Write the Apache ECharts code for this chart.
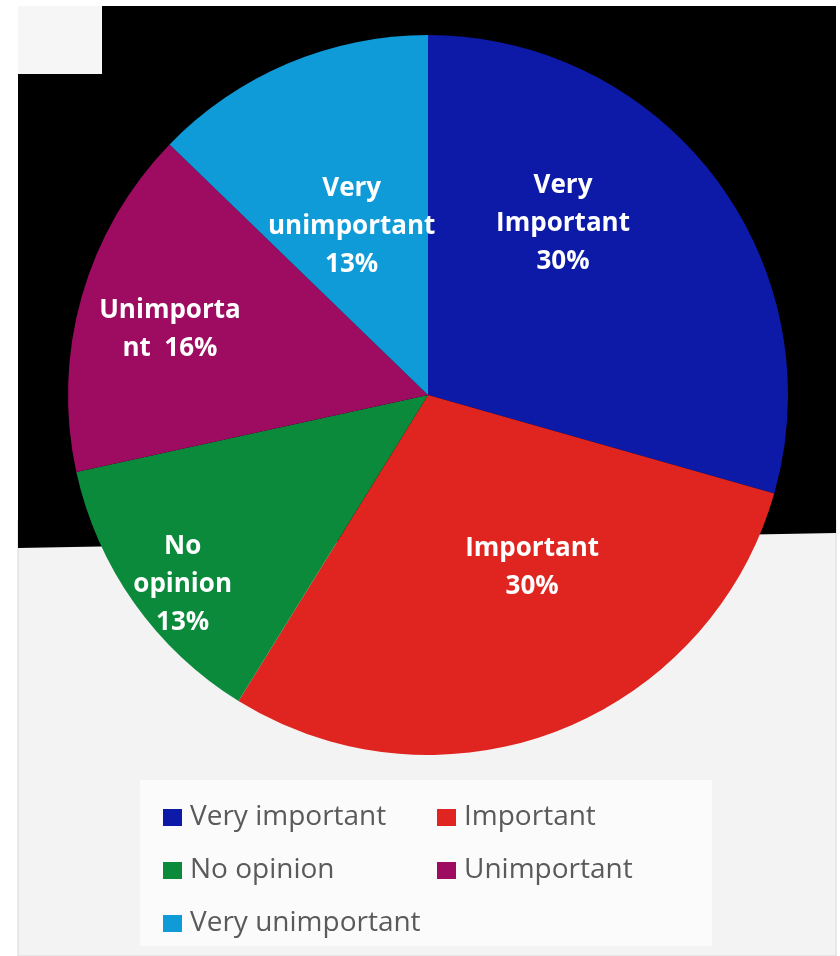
<!DOCTYPE html>
<html>
<head>
<meta charset="utf-8">
<script src="https://cdn.jsdelivr.net/npm/echarts@6/dist/echarts.min.js"></script>
<style>
  html, body { margin: 0; padding: 0; background: #ffffff; }
  #chart { width: 840px; height: 956px; }
</style>
</head>
<body>
<div id="chart"></div>
<script>
// Survey answers and their shares (percent)
const categories = ['Very important', 'Important', 'No opinion', 'Unimportant', 'Very unimportant'];
const shares = [30, 30, 13, 16, 13];
// Text written on each slice, before its percentage
const sliceLabels = ['Very\nImportant\n', 'Important\n', 'No\nopinion\n', 'Unimporta\nnt  ', 'Very\nunimportant\n'];

// Styling
const sliceColors = ['#0d1aa8', '#e0241f', '#0b8a3c', '#9d0c60', '#0f9ad8'];
// Per-slice nudges of the labels away from the slice midpoints
const labelNudge = [[-11, -61], [38, 2], [-96, 84], [-82, -15], [-5, 0]];

const chart = echarts.init(document.getElementById('chart'), null, { renderer: 'canvas' });

chart.setOption({
  animation: false,
  backgroundColor: '#ffffff',
  graphic: [
    // lower panel
    { type: 'rect', z: -10, shape: { x: 18, y: 520, width: 818, height: 436 },
      style: { fill: '#f3f3f3', stroke: '#d8d8d8', lineWidth: 1 } },
    // legend area
    { type: 'rect', z: -9, shape: { x: 140, y: 780, width: 572, height: 166 },
      style: { fill: '#fbfbfb' } },
    // dark backdrop behind the pie
    { type: 'polygon', z: -8, shape: { points: [[18, 6], [836, 6], [836, 533], [18, 548]] },
      style: { fill: '#000000' } },
    // small light box in the corner
    { type: 'rect', z: -7, shape: { x: 18, y: 6, width: 84, height: 68 },
      style: { fill: '#f6f6f6' } }
  ],
  legend: {
    data: categories,
    left: 158,
    top: 786,
    width: 560,
    itemGap: 0,
    itemWidth: 19,
    itemHeight: 17,
    icon: 'rect',
    selectedMode: false,
    textStyle: {
      fontFamily: 'Open Sans',
      fontSize: 28,
      color: '#5a5a5a',
      width: 247,
      lineHeight: 53,
      padding: [0, 0, 0, 3]
    }
  },
  series: [{
    type: 'pie',
    center: [428, 395],
    radius: 360,
    startAngle: 90,
    clockwise: true,
    avoidLabelOverlap: false,
    emphasis: { disabled: true },
    itemStyle: { borderWidth: 0 },
    label: {
      show: true,
      position: 'inside',
      color: '#ffffff',
      fontFamily: 'Open Sans',
      fontWeight: 'bold',
      fontSize: 26,
      lineHeight: 38,
      align: 'center',
      formatter: p => sliceLabels[p.dataIndex] + p.value + '%'
    },
    labelLine: { show: false },
    labelLayout: p => ({ dx: labelNudge[p.dataIndex][0], dy: labelNudge[p.dataIndex][1] }),
    data: categories.map((name, i) => ({
      name: name,
      value: shares[i],
      itemStyle: { color: sliceColors[i] }
    }))
  }]
});
</script>
</body>
</html>
